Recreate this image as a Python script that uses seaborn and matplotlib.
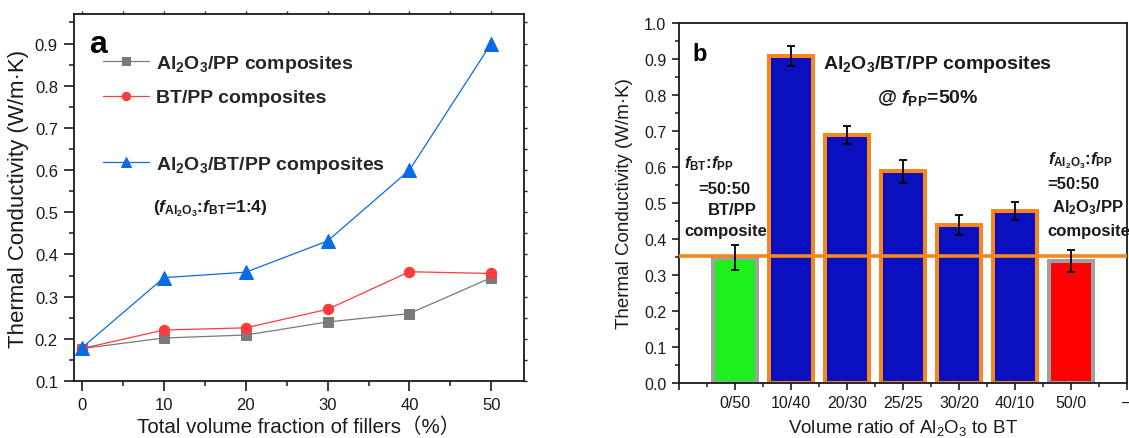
import matplotlib
matplotlib.use('Agg')
import matplotlib.pyplot as plt
import matplotlib.ticker as mtick
from matplotlib.lines import Line2D
import numpy as np
import seaborn as sns


sns.set_theme(style='white')
plt.rcParams['font.family'] = ['Liberation Sans', 'Noto Sans CJK SC']
plt.rcParams['mathtext.fontset'] = 'custom'
plt.rcParams['mathtext.rm'] = 'Liberation Sans'
plt.rcParams['mathtext.it'] = 'Liberation Sans:italic:bold'
plt.rcParams['mathtext.bf'] = 'Liberation Sans:bold'
plt.rcParams['mathtext.default'] = 'regular'

ink = '#1a1a1a'
orange = '#f7861c'

# Panel a: conductivity vs total filler fraction
filler_pct = [0, 10, 20, 30, 40, 50]
k_al2o3_pp = [0.177, 0.202, 0.209, 0.240, 0.260, 0.345]
k_bt_pp = [0.177, 0.221, 0.226, 0.270, 0.359, 0.355]
k_hybrid = [0.179, 0.345, 0.358, 0.432, 0.600, 0.900]

# Panel b: conductivity vs Al2O3:BT ratio at f_PP = 50%
ratios = ['0/50', '10/40', '20/30', '25/25', '30/20', '40/10', '50/0']
k_ratio = [0.348, 0.909, 0.688, 0.588, 0.438, 0.478, 0.339]
k_err = [0.034, 0.029, 0.025, 0.031, 0.028, 0.026, 0.031]
bar_fill = ['#1ef01e', '#0a10c0', '#0a10c0', '#0a10c0', '#0a10c0', '#0a10c0', '#ff0000']
bar_edge = ['#a0a0a0', orange, orange, orange, orange, orange, '#a0a0a0']
k_reference = 0.353

fig = plt.figure(figsize=(11.29, 4.39), dpi=100)
ax1 = fig.add_axes([0.0655, 0.1298, 0.3986, 0.836])
ax2 = fig.add_axes([0.6014, 0.126, 0.3968, 0.8186])

# ---- panel a ----
series = [
    (k_al2o3_pp, '#7a7a7a', 's', 7, 'Al$_2$O$_3$/PP composites'),
    (k_bt_pp, '#ff3b3b', 'o', 7.5, 'BT/PP composites'),
    (k_hybrid, '#0a6be6', '^', 9.5, 'Al$_2$O$_3$/BT/PP composites'),
]
for vals, col, mk, ms, lab in series:
    sns.lineplot(x=filler_pct, y=vals, color=col, marker=mk, markersize=ms,
                 markeredgecolor=col, linewidth=0.9, label=lab, ax=ax1)

handles, labels = ax1.get_legend_handles_labels()
blank = Line2D([], [], linestyle='none')
ax1.legend(
    [handles[0], handles[1], blank, handles[2]],
    [labels[0], labels[1], ' ', labels[2]],
    loc='upper left', bbox_to_anchor=(0.064, 0.895), frameon=False,
    borderpad=0, borderaxespad=0, handlelength=2.4, handletextpad=0.35,
    labelspacing=0.78, markerscale=0.8,
    prop={'weight': 'bold', 'size': 14},
)

ax1.set_xlim(-1, 54)
ax1.set_ylim(0.1, 0.97)
ax1.xaxis.set_major_locator(mtick.MultipleLocator(10))
ax1.xaxis.set_minor_locator(mtick.MultipleLocator(5))
ax1.yaxis.set_major_locator(mtick.MultipleLocator(0.1))
ax1.yaxis.set_minor_locator(mtick.MultipleLocator(0.05))
ax1.yaxis.set_major_formatter(mtick.FormatStrFormatter('%.1f'))
ax1.tick_params(which='major', direction='out', length=7, width=1.2,
                labelsize=12, colors=ink, pad=4.5, left=True, bottom=True)
ax1.tick_params(which='minor', direction='out', length=3.5, width=1.1,
                colors=ink, left=True, bottom=True)
ax1.set_xlabel('Total volume fraction of fillers（%）', fontsize=14.8, color=ink, labelpad=3)
ax1.set_ylabel('Thermal Conductivity (W/m·K)', fontsize=16, color=ink, labelpad=4)

sec_r = ax1.secondary_yaxis('right')
sec_r.yaxis.set_major_locator(mtick.MultipleLocator(0.05))
sec_r.tick_params(direction='out', length=2.5, width=1, labelright=False, colors=ink)
sec_t = ax1.secondary_xaxis('top')
sec_t.xaxis.set_major_locator(mtick.MultipleLocator(5))
sec_t.tick_params(direction='out', length=2, width=1, labeltop=False, colors=ink)
for sec in (sec_r, sec_t):
    for sp in sec.spines.values():
        sp.set_visible(False)

ax1.text(0.89, 0.881, 'a', fontsize=23, fontweight='bold', color='black',
         ha='left', va='baseline')
ax1.text(8.68, 0.510, r'($\mathit{f}_{Al_2O_3}$:$\mathit{f}_{BT}$=1:4)',
         fontsize=12.5, fontweight='bold', color=ink, ha='left', va='center')

# ---- panel b ----
sns.barplot(x=ratios, y=k_ratio, hue=ratios, palette=dict(zip(ratios, bar_fill)),
            legend=False, width=0.8, saturation=1, ax=ax2, zorder=2)
for patch, ec in zip(ax2.patches, bar_edge):
    patch.set_edgecolor(ec)
    patch.set_linewidth(2.9)

ax2.axhline(k_reference, color=orange, lw=2.6, zorder=4)
ax2.errorbar(range(len(ratios)), k_ratio, yerr=k_err, fmt='none', ecolor='black',
             elinewidth=1.3, capsize=3.2, capthick=1.3, zorder=5)

ax2.set_xlim(-1, 7)
ax2.set_ylim(0, 1.0)
ax2.set_xticks(range(-1, 8))
ax2.set_xticklabels([''] + ratios + ['–'])
ax2.xaxis.set_minor_locator(mtick.FixedLocator(np.arange(-0.5, 7, 1)))
ax2.yaxis.set_major_locator(mtick.MultipleLocator(0.1))
ax2.yaxis.set_minor_locator(mtick.MultipleLocator(0.05))
ax2.yaxis.set_major_formatter(mtick.FormatStrFormatter('%.1f'))
ax2.tick_params(which='major', direction='out', length=5, width=1.2,
                labelsize=11.5, colors=ink, pad=4, left=True, bottom=True)
ax2.tick_params(which='minor', direction='out', length=3, width=1.1,
                colors=ink, left=True, bottom=True)
ax2.set_xlabel('Volume ratio of Al$_2$O$_3$ to BT', fontsize=13.5, color=ink, labelpad=5)
ax2.set_ylabel('Thermal Conductivity (W/m·K)', fontsize=13.5, color=ink, labelpad=8)

for ax in (ax1, ax2):
    for sp in ax.spines.values():
        sp.set_visible(True)
        sp.set_color(ink)
        sp.set_linewidth(1.3)

bold = dict(fontweight='bold', color=ink, ha='left', va='center')
ax2.text(-0.768, 0.899, 'b', fontsize=17, fontweight='bold', color='black',
         ha='left', va='baseline')
ax2.text(1.571, 0.888, 'Al$_2$O$_3$/BT/PP composites', fontsize=14, **bold)
ax2.text(2.529, 0.796, r'@ $\mathit{f}_{PP}$=50%', fontsize=14, **bold)

ax2.text(-0.902, 0.613, r'$\mathit{f}_{BT}$:$\mathit{f}_{PP}$', fontsize=12, **bold)
ax2.text(-0.661, 0.541, '=50:50', fontsize=12, **bold)
ax2.text(-0.482, 0.482, 'BT/PP', fontsize=12, **bold)
ax2.text(-0.902, 0.424, 'composite', fontsize=12, **bold)

ax2.text(5.589, 0.621, r'$\mathit{f}_{Al_2O_3}$:$\mathit{f}_{PP}$', fontsize=12, **bold)
ax2.text(5.571, 0.555, '=50:50', fontsize=12, **bold)
ax2.text(5.654, 0.491, 'Al$_2$O$_3$/PP', fontsize=12, **bold)
ax2.text(5.571, 0.424, 'composite', fontsize=12, **bold)

fig.savefig('out.png', dpi=100)
